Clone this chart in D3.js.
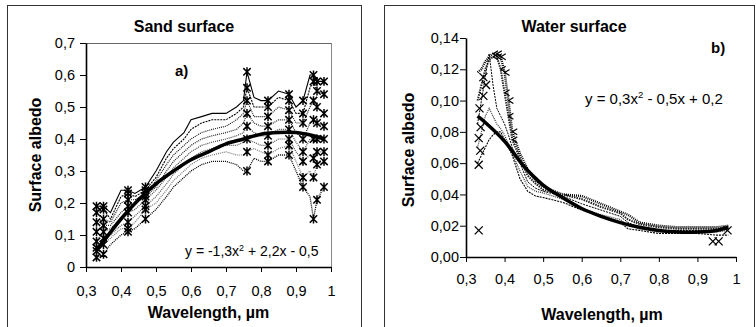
<!DOCTYPE html>
<html><head><meta charset="utf-8">
<script src="https://cdn.jsdelivr.net/npm/d3@7"></script>
<style>
body{margin:0;background:#fff}
text{font-family:Arial,"Liberation Sans",sans-serif;fill:#000}
</style>
</head><body>
<svg id="c" width="756" height="327"></svg>
<script>
// ---------- Sand surface data ----------
const sandW = [0.33,0.35,0.37,0.40,0.42,0.44,0.47,0.50,0.53,0.55,0.58,0.60,0.63,0.66,0.70,0.73,0.75,0.76,0.78,0.80,0.82,0.85,0.88,0.90,0.92,0.94,0.95,0.96,0.98];
const sand1 = [0.19,0.19,0.17,0.24,0.24,0.23,0.25,0.30,0.36,0.39,0.42,0.46,0.47,0.48,0.48,0.50,0.52,0.61,0.53,0.52,0.52,0.55,0.54,0.50,0.52,0.60,0.60,0.58,0.58];
const sand2 = [0.17,0.18,0.15,0.22,0.23,0.22,0.24,0.28,0.34,0.37,0.40,0.43,0.45,0.46,0.46,0.48,0.50,0.56,0.50,0.50,0.50,0.53,0.52,0.48,0.48,0.56,0.58,0.55,0.54];
const sand3 = [0.14,0.15,0.14,0.20,0.21,0.21,0.23,0.27,0.32,0.35,0.38,0.40,0.42,0.43,0.44,0.46,0.48,0.52,0.47,0.47,0.47,0.50,0.49,0.45,0.45,0.50,0.52,0.50,0.48];
const sand4 = [0.11,0.13,0.13,0.17,0.19,0.20,0.22,0.25,0.30,0.33,0.36,0.38,0.40,0.41,0.42,0.43,0.45,0.48,0.45,0.44,0.44,0.46,0.46,0.42,0.40,0.45,0.46,0.45,0.44];
const sand5 = [0.08,0.11,0.12,0.15,0.17,0.18,0.21,0.24,0.28,0.31,0.34,0.36,0.38,0.39,0.40,0.41,0.42,0.44,0.42,0.41,0.41,0.43,0.43,0.39,0.36,0.40,0.40,0.40,0.40];
const sand6 = [0.06,0.09,0.10,0.13,0.14,0.16,0.19,0.22,0.26,0.29,0.32,0.34,0.36,0.37,0.38,0.38,0.39,0.40,0.39,0.38,0.38,0.40,0.40,0.36,0.33,0.35,0.34,0.36,0.36];
const sand7 = [0.05,0.07,0.09,0.12,0.12,0.14,0.18,0.20,0.24,0.27,0.30,0.32,0.34,0.35,0.36,0.35,0.35,0.36,0.37,0.36,0.35,0.37,0.38,0.33,0.28,0.30,0.28,0.32,0.33];
const sand8 = [0.03,0.04,0.07,0.10,0.11,0.12,0.15,0.18,0.22,0.25,0.28,0.30,0.32,0.33,0.33,0.32,0.30,0.30,0.34,0.33,0.33,0.35,0.35,0.30,0.25,0.22,0.15,0.21,0.25];
const sandMarkW = [0.33,0.35,0.42,0.47,0.76,0.82,0.88,0.92,0.95,0.96,0.98];
const sandFitW = [0.33,0.35,0.40,0.45,0.50,0.55,0.60,0.65,0.70,0.75,0.80,0.85,0.90,0.95,0.98];
const sandFit  = [0.05,0.08,0.15,0.21,0.26,0.30,0.335,0.36,0.385,0.40,0.415,0.42,0.42,0.41,0.40];

// ---------- Water surface data ----------
const waterW = [0.33,0.34,0.35,0.36,0.37,0.38,0.39,0.40,0.41,0.42,0.44,0.46,0.48,0.50,0.55,0.60,0.65,0.70,0.72,0.75,0.80,0.85,0.90,0.95,0.98];
const water1 = [0.118,0.120,0.125,0.128,0.130,0.130,0.128,0.118,0.100,0.080,0.066,0.056,0.049,0.045,0.040,0.039,0.034,0.029,0.027,0.022,0.020,0.019,0.019,0.019,0.020];
const water2 = [0.100,0.110,0.120,0.126,0.128,0.128,0.120,0.105,0.090,0.075,0.063,0.052,0.047,0.043,0.040,0.037,0.032,0.028,0.024,0.021,0.019,0.018,0.018,0.018,0.019];
const water3 = [0.085,0.100,0.115,0.130,0.110,0.095,0.090,0.085,0.078,0.070,0.060,0.048,0.044,0.042,0.039,0.034,0.030,0.026,0.022,0.019,0.017,0.017,0.017,0.017,0.018];
const water4 = [0.070,0.080,0.090,0.095,0.090,0.085,0.082,0.078,0.072,0.066,0.055,0.045,0.042,0.041,0.037,0.031,0.027,0.024,0.020,0.018,0.016,0.016,0.016,0.016,0.017];
const water5 = [0.060,0.065,0.070,0.075,0.078,0.080,0.080,0.075,0.070,0.065,0.050,0.042,0.039,0.038,0.035,0.030,0.026,0.022,0.018,0.017,0.015,0.015,0.015,0.014,0.014];
const waterMarkW = [0.333,0.337,0.333,0.338,0.335,0.345,0.352,0.345,0.333,0.94,0.955,0.978];
const waterMarkV = [0.059,0.068,0.076,0.083,0.095,0.103,0.110,0.115,0.017,0.010,0.010,0.017];
const waterFitW = [0.33,0.35,0.40,0.45,0.50,0.55,0.60,0.65,0.70,0.75,0.80,0.85,0.90,0.95,0.98];
const waterFit  = [0.090,0.086,0.074,0.058,0.046,0.038,0.031,0.026,0.022,0.019,0.017,0.016,0.016,0.017,0.019];

// ---------- Ticks ----------
const xTicks = [0.3,0.4,0.5,0.6,0.7,0.8,0.9,1];
const sandYTicks = [0,0.1,0.2,0.3,0.4,0.5,0.6,0.7];
const waterYTicks = [0,0.02,0.04,0.06,0.08,0.10,0.12,0.14];

const svg = d3.select("#c");
const comma = s => s.replace(".", ",");
const fmtX = d => d === 1 ? "1" : comma(d3.format(".1f")(d));
const fmtSandY = d => d === 0 ? "0" : comma(d3.format(".1f")(d));
const fmtWaterY = d => comma(d3.format(".2f")(d));

// panel borders
svg.append("rect").attr("x",7.5).attr("y",5.5).attr("width",354).attr("height",340)
  .attr("fill","none").attr("stroke","#333").attr("stroke-width",1);
svg.append("rect").attr("x",384.5).attr("y",5.5).attr("width",370).attr("height",340)
  .attr("fill","none").attr("stroke","#333").attr("stroke-width",1);

function asterisk(s){return `M${-s},${-s}L${s},${s}M${-s},${s}L${s},${-s}M0,${-s*1.2}L0,${s*1.2}`;}
function cross(s){return `M${-s},${-s}L${s},${s}M${-s},${s}L${s},${-s}`;}
function chevron(s){return `M${s},${-s}L${-s*0.6},0L${s},${s}`;}

function styleAxis(g, size){
  g.attr("font-family", null).attr("font-size", null);
  g.selectAll("text").style("font-size", size+"px").style("font-family","Arial, 'Liberation Sans', sans-serif").attr("fill","#000");
  g.select(".domain").attr("stroke","#000").attr("stroke-width",1.6);
  g.selectAll(".tick line").attr("stroke","#000").attr("stroke-width",1);
}

// ================= Left panel =================
{
  const x = d3.scaleLinear().domain([0.3,1]).range([86,331]);
  const y = d3.scaleLinear().domain([0,0.7]).range([267,43]);
  svg.append("line").attr("x1",86).attr("x2",331).attr("y1",43.5).attr("y2",43.5).attr("stroke","#666");
  svg.append("line").attr("x1",331.5).attr("x2",331.5).attr("y1",43).attr("y2",267).attr("stroke","#888");

  const series = [sand1,sand2,sand3,sand4,sand5,sand6,sand7,sand8];
  const styles = [
    {c:"#000",w:1.1,d:null},{c:"#000",w:1.1,d:"2,1"},{c:"#111",w:1.1,d:"1,1"},{c:"#222",w:1.2,d:"1,1"},
    {c:"#444",w:1.2,d:"1,1"},{c:"#555",w:1.2,d:"1,1"},{c:"#777",w:1.2,d:"1,1"},{c:"#000",w:1.3,d:"1,1"}];
  const line = d3.line().x((d,i)=>x(sandW[i])).y(d=>y(d));
  series.forEach((s,k)=>{
    svg.append("path").attr("d",line(s)).attr("fill","none")
      .attr("stroke",styles[k].c).attr("stroke-width",styles[k].w)
      .attr("stroke-dasharray",styles[k].d);
    sandW.forEach((w,i)=>{
      if(sandMarkW.includes(w)){
        svg.append("path").attr("d",asterisk(3.7))
          .attr("transform",`translate(${x(w)},${y(s[i])})`)
          .attr("stroke","#000").attr("stroke-width",1.5).attr("fill","none");
      }
    });
  });
  svg.append("path").attr("d",d3.line().curve(d3.curveCatmullRom).x((d,i)=>x(sandFitW[i])).y(d=>y(d))(sandFit))
    .attr("fill","none").attr("stroke","#000").attr("stroke-width",3.5);

  const gx = svg.append("g").attr("transform","translate(0,267)")
    .call(d3.axisBottom(x).tickValues(xTicks).tickFormat(fmtX).tickSize(5).tickSizeOuter(0).tickPadding(14));
  styleAxis(gx,14.5);
  const gy = svg.append("g").attr("transform","translate(86,0)")
    .call(d3.axisLeft(y).tickValues(sandYTicks).tickFormat(fmtSandY).tickSize(6).tickSizeOuter(0).tickPadding(5));
  styleAxis(gy,14.5);

  svg.append("text").attr("x",184).attr("y",32).attr("text-anchor","middle")
    .style("font-size","16px").style("font-weight","bold").text("Sand surface");
  svg.append("text").attr("x",208.5).attr("y",318).attr("text-anchor","middle")
    .style("font-size","16px").style("font-weight","bold").text("Wavelength, \u00b5m");
  svg.append("text").attr("transform","translate(41,155) rotate(-90)").attr("text-anchor","middle")
    .style("font-size","16px").style("font-weight","bold").text("Surface albedo");
  svg.append("text").attr("x",175).attr("y",76).style("font-size","15px").style("font-weight","bold").text("a)");
  const eq = svg.append("text").attr("x",185).attr("y",256).style("font-size","14px");
  eq.append("tspan").text("y = -1,3x");
  eq.append("tspan").attr("dy",-5).style("font-size","9px").text("2");
  eq.append("tspan").attr("dy",5).text(" + 2,2x - 0,5");
}

// ================= Right panel =================
{
  const x = d3.scaleLinear().domain([0.3,1]).range([466,736]);
  const y = d3.scaleLinear().domain([0,0.14]).range([257,38]);
  const series = [water1,water2,water3,water4,water5];
  const styles = [
    {c:"#000",w:2.4,d:"1,1"},{c:"#222",w:2,d:"1.5,1"},{c:"#000",w:1,d:"2,1"},
    {c:"#333",w:1.2,d:"1,1"},{c:"#000",w:1.1,d:"2,1"}];
  const line = d3.line().x((d,i)=>x(waterW[i])).y(d=>y(d));
  series.forEach((s,k)=>{
    svg.append("path").attr("d",line(s)).attr("fill","none")
      .attr("stroke",styles[k].c).attr("stroke-width",styles[k].w)
      .attr("stroke-dasharray",styles[k].d);
  });
  // chevron texture along the high ridge
  [water1,water2].forEach(s=>{
    waterW.forEach((w,i)=>{
      if(w>=0.37 && w<=0.42){
        svg.append("path").attr("d",chevron(3))
          .attr("transform",`translate(${x(w)+2},${y(s[i])})`)
          .attr("stroke","#000").attr("stroke-width",1.2).attr("fill","none");
      }
    });
  });
  waterMarkW.forEach((w,i)=>{
    svg.append("path").attr("d",cross(4))
      .attr("transform",`translate(${x(w)},${y(waterMarkV[i])})`)
      .attr("stroke","#000").attr("stroke-width",1.3).attr("fill","none");
  });
  svg.append("path").attr("d",d3.line().curve(d3.curveCatmullRom).x((d,i)=>x(waterFitW[i])).y(d=>y(d))(waterFit))
    .attr("fill","none").attr("stroke","#000").attr("stroke-width",3.5);

  const gx = svg.append("g").attr("transform","translate(0,257)")
    .call(d3.axisBottom(x).tickValues(xTicks).tickFormat(fmtX).tickSize(5).tickSizeOuter(0).tickPadding(12));
  styleAxis(gx,14.5);
  const gy = svg.append("g").attr("transform","translate(466,0)")
    .call(d3.axisLeft(y).tickValues(waterYTicks).tickFormat(fmtWaterY).tickSize(6).tickSizeOuter(0).tickPadding(1));
  styleAxis(gy,14.5);

  svg.append("text").attr("x",574).attr("y",32).attr("text-anchor","middle")
    .style("font-size","16px").style("font-weight","bold").text("Water surface");
  svg.append("text").attr("x",602).attr("y",320).attr("text-anchor","middle")
    .style("font-size","16px").style("font-weight","bold").text("Wavelength, \u00b5m");
  svg.append("text").attr("transform","translate(414,150) rotate(-90)").attr("text-anchor","middle")
    .style("font-size","16px").style("font-weight","bold").text("Surface albedo");
  svg.append("text").attr("x",711).attr("y",53).style("font-size","15px").style("font-weight","bold").text("b)");
  const eq = svg.append("text").attr("x",585).attr("y",104).style("font-size","15px");
  eq.append("tspan").text("y = 0,3x");
  eq.append("tspan").attr("dy",-6).style("font-size","9.5px").text("2");
  eq.append("tspan").attr("dy",6).text(" - 0,5x + 0,2");
}
</script>
</body></html>
